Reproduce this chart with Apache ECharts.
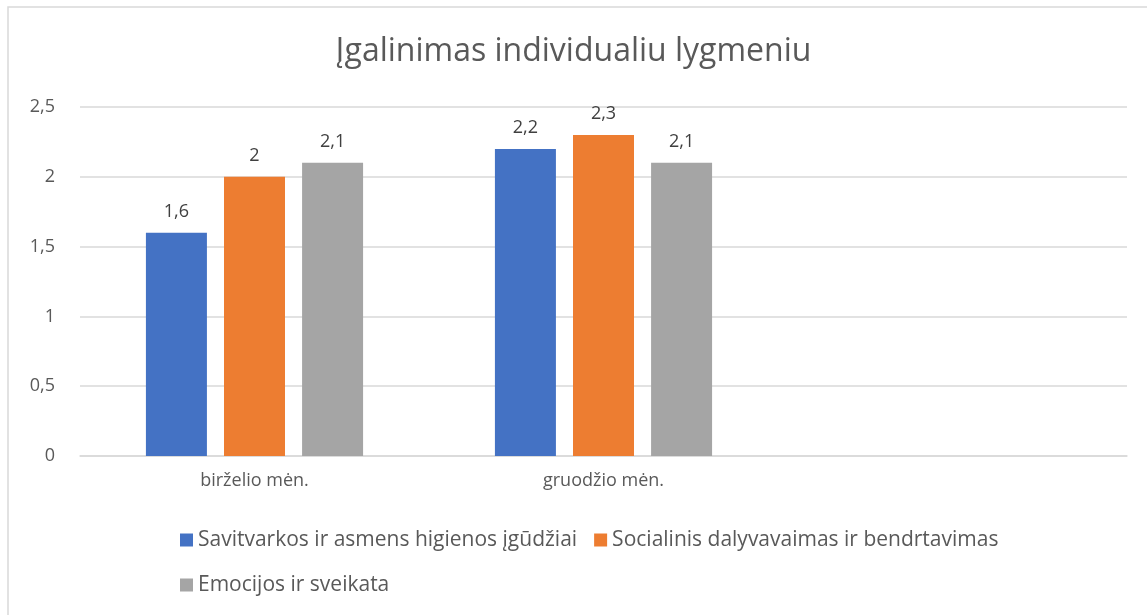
<!DOCTYPE html>
<html>
<head>
<meta charset="utf-8">
<script src="https://cdn.jsdelivr.net/npm/echarts@6/dist/echarts.min.js"></script>
<style>
  html, body { margin: 0; padding: 0; background: #fff; }
  #chart { width: 1147px; height: 615px; }
</style>
</head>
<body>
<div id="chart"></div>
<script>
// Kategorijos (trečia tuščia, kaip originale)
const categories = ['birželio mėn.', 'gruodžio mėn.', ''];
const seriesNames = [
  'Savitvarkos ir asmens higienos įgūdžiai',
  'Socialinis dalyvavaimas ir bendrtavimas',
  'Emocijos ir sveikata'
];
const savitvarka = [1.6, 2.2, null];
const socialinis = [2, 2.3, null];
const emocijos = [2.1, 2.1, null];
const colors = ['#4472c4', '#ed7d31', '#a5a5a5'];

const fmt = v => String(v).replace('.', ',');
const font = '"Open Sans", Lato, sans-serif';

const mkSeries = (name, data, color) => ({
  name,
  type: 'bar',
  data,
  barWidth: 61,
  barGap: '28%',
  itemStyle: { color },
  label: {
    show: true,
    position: 'top',
    distance: 12,
    color: '#404040',
    fontFamily: font,
    fontSize: 18,
    formatter: p => fmt(p.value)
  }
});

const chart = echarts.init(document.getElementById('chart'));
chart.setOption({
  animation: false,
  title: {
    text: 'Įgalinimas individualiu lygmeniu',
    left: 'center',
    top: 31,
    textStyle: { color: '#595959', fontFamily: font, fontSize: 32, fontWeight: 'normal' }
  },
  graphic: [{
    type: 'rect',
    shape: { x: 8, y: 7, width: 1160, height: 640 },
    style: { fill: 'none', stroke: '#d9d9d9', lineWidth: 1.5 },
    silent: true
  }],
  grid: { left: 80, right: 20, top: 107, bottom: 159 },
  legend: {
    left: 175,
    top: 521,
    width: 860,
    itemWidth: 13,
    itemHeight: 13,
    itemGap: 17,
    icon: 'rect',
    textStyle: { color: '#595959', fontFamily: font, fontSize: 21, lineHeight: 28 },
    data: seriesNames
  },
  xAxis: {
    type: 'category',
    data: categories,
    axisTick: { show: false },
    axisLine: { lineStyle: { color: '#d9d9d9', width: 1.5 } },
    axisLabel: { color: '#595959', fontFamily: font, fontSize: 18, margin: 16 }
  },
  yAxis: {
    type: 'value',
    min: 0,
    max: 2.5,
    interval: 0.5,
    axisLine: { show: false },
    axisTick: { show: false },
    splitLine: { lineStyle: { color: '#d9d9d9', width: 1.5 } },
    axisLabel: { color: '#595959', fontFamily: font, fontSize: 18, margin: 25, formatter: fmt }
  },
  series: [
    mkSeries(seriesNames[0], savitvarka, colors[0]),
    mkSeries(seriesNames[1], socialinis, colors[1]),
    mkSeries(seriesNames[2], emocijos, colors[2])
  ]
});
</script>
</body>
</html>
